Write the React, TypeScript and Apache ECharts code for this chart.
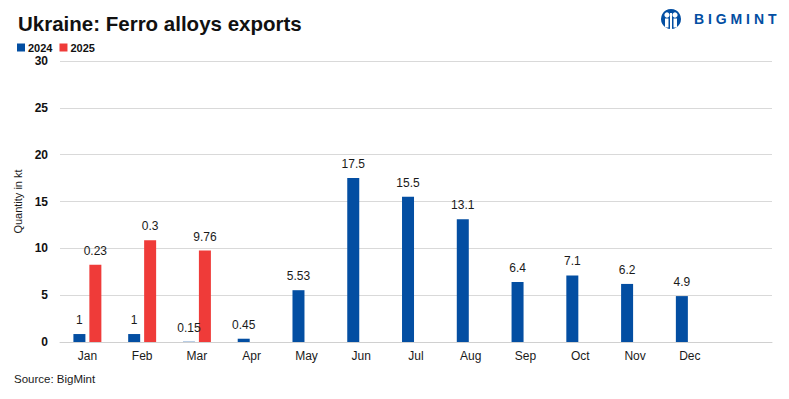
import React, { useEffect, useRef } from "react";
import * as echarts from "echarts";

const categories = ["Jan", "Feb", "Mar", "Apr", "May", "Jun", "Jul", "Aug", "Sep", "Oct", "Nov", "Dec", ""];
const values2024 = [0.85, 0.85, 0.03, 0.35, 5.53, 17.5, 15.5, 13.1, 6.4, 7.1, 6.2, 4.9, null];
const values2025 = [8.25, 10.85, 9.76, null, null, null, null, null, null, null, null, null, null];
const labels2024 = ["1", "1", "0.15", "0.45", "5.53", "17.5", "15.5", "13.1", "6.4", "7.1", "6.2", "4.9", ""];
const labels2025 = ["0.23", "0.3", "9.76", "", "", "", "", "", "", "", "", "", ""];
const yTicks = [0, 5, 10, 15, 20, 25, 30];

const BLUE = "#034ea2";
const RED = "#ef3b39";
const FONT = "Liberation Sans, Arial, sans-serif";

export default function App() {
  const ref = useRef<HTMLDivElement>(null);
  useEffect(() => {
    if (!ref.current) return;
    const chart = echarts.init(ref.current, null, { renderer: "svg" });
    const labelStyle = {
      show: true,
      position: "top",
      distance: 8,
      color: "#1a1a1a",
      fontSize: 12,
      fontFamily: FONT,
    };
    chart.setOption({
      animation: false,
      backgroundColor: "#ffffff",
      title: {
        text: "Ukraine: Ferro alloys exports",
        left: 13,
        top: 8,
        textStyle: { fontSize: 20.5, fontWeight: "bold", fontFamily: FONT, color: "#111" },
      },
      legend: {
        left: 12,
        top: 37,
        itemWidth: 8,
        itemHeight: 8,
        itemGap: 7,
        icon: "rect",
        textStyle: { fontSize: 11, fontWeight: "bold", color: "#111", fontFamily: FONT, padding: [0, 0, 0, -2] },
        data: ["2024", "2025"],
      },
      grid: { left: 60, right: 17, top: 61, bottom: 57, containLabel: false },
      xAxis: {
        type: "category",
        data: categories,
        axisLine: { lineStyle: { color: "#d0d0d0" } },
        axisTick: { show: false },
        axisLabel: { color: "#1a1a1a", fontSize: 12, margin: 8, fontFamily: FONT },
      },
      yAxis: {
        type: "value",
        min: yTicks[0],
        max: yTicks[yTicks.length - 1],
        interval: 5,
        name: "Quantity in kt",
        nameLocation: "middle",
        nameGap: 35,
        nameRotate: 90,
        nameTextStyle: { fontSize: 11, color: "#1a1a1a", fontFamily: FONT },
        axisLine: { show: false },
        axisTick: { show: false },
        splitLine: { lineStyle: { color: "#d9d9d9" } },
        axisLabel: { color: "#111", fontSize: 12, fontWeight: "bold", margin: 12, fontFamily: FONT },
      },
      series: [
        {
          name: "2024",
          type: "bar",
          data: values2024,
          barWidth: 12,
          barGap: "33%",
          itemStyle: { color: BLUE },
          label: { ...labelStyle, formatter: (p: any) => labels2024[p.dataIndex] },
        },
        {
          name: "2025",
          type: "bar",
          data: values2025,
          barWidth: 12,
          itemStyle: { color: RED },
          label: { ...labelStyle, formatter: (p: any) => labels2025[p.dataIndex] },
        },
      ],
      graphic: [
        {
          type: "text",
          left: 14,
          top: 373,
          style: { text: "Source: BigMint", fontSize: 11.5, fill: "#1a1a1a", fontFamily: FONT },
        },
        {
          type: "group",
          left: 661,
          top: 9,
          children: [
            { type: "circle", shape: { cx: 10, cy: 10, r: 10 }, style: { fill: BLUE } },
            { type: "circle", shape: { cx: 6, cy: 6, r: 2.6 }, style: { fill: "#fff" } },
            { type: "circle", shape: { cx: 14, cy: 6, r: 2.6 }, style: { fill: "#fff" } },
            { type: "rect", shape: { x: 4, y: 9.5, width: 3.5, height: 9 }, style: { fill: "#fff" } },
            { type: "rect", shape: { x: 12.5, y: 9.5, width: 3.5, height: 9 }, style: { fill: "#fff" } },
            { type: "rect", shape: { x: 9, y: 4, width: 2, height: 16 }, style: { fill: "#fff" } },
          ],
        },
        {
          type: "text",
          left: 694,
          top: 12,
          style: { text: "B I G M I N T", fontSize: 14, fontWeight: "bold", fill: BLUE, fontFamily: FONT },
        },
      ],
    });
    return () => chart.dispose();
  }, []);
  return <div ref={ref} style={{ width: 789, height: 399, position: "fixed", left: 0, top: 0 }} />;
}
